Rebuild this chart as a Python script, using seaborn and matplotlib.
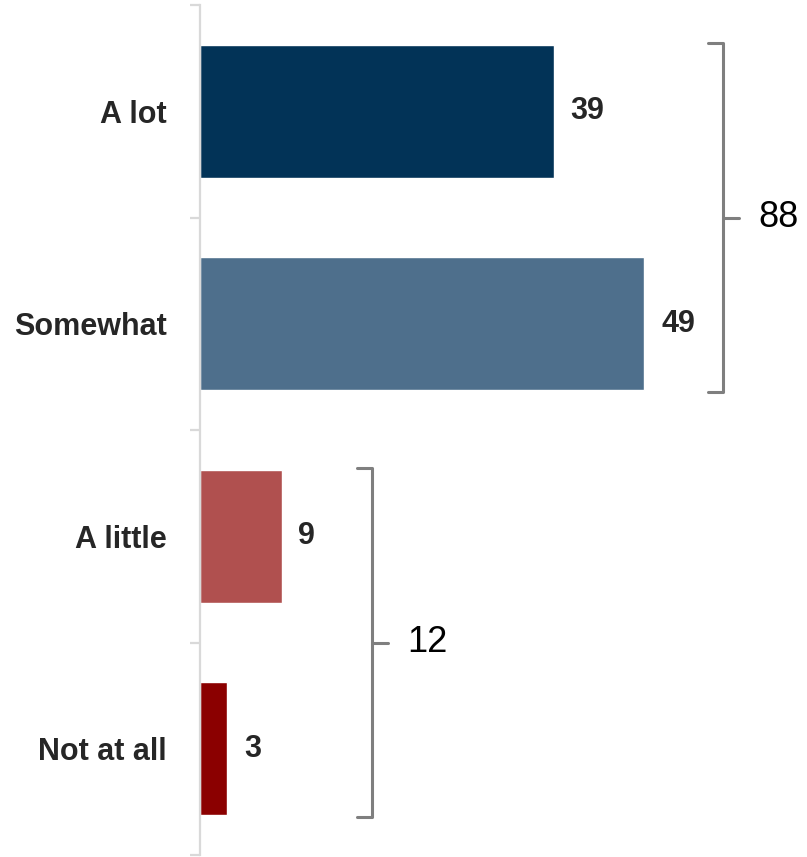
import matplotlib
matplotlib.use("Agg")
import matplotlib.pyplot as plt
from matplotlib import font_manager
import seaborn as sns
import pandas as pd

# data
categories = ["A lot", "Somewhat", "A little", "Not at all"]
values = [39, 49, 9, 3]
colors = ["#023357", "#4E6F8C", "#B0504F", "#8B0000"]
groups = [[0, 1], [2, 3]]
group_totals = [88, 12]

sns.set_theme(style="white")

# narrow font if it exists, else the plain one
names = set(f.name for f in font_manager.fontManager.ttflist)
font = "Liberation Sans Narrow" if "Liberation Sans Narrow" in names else "Liberation Sans"
plt.rcParams["font.family"] = [font, "DejaVu Sans"]
label_size = 20 if font.endswith("Narrow") else 22

df = pd.DataFrame({"category": categories, "value": values})

fig = plt.figure(figsize=(8.07, 8.57), dpi=100)
ax = fig.add_axes([200 / 807, 2 / 857, 607 / 807, 850 / 857])

sns.barplot(data=df, x="value", y="category", hue="category", palette=colors,
            width=0.625, legend=False, ax=ax, saturation=1)

px_per_unit = 9.07
ax.set_xlim(0, 607 / px_per_unit)
ax.set_ylim(len(categories) - 0.5, -0.5)

# value labels
for cont in ax.containers:
    ax.bar_label(cont, padding=12, fontsize=label_size, fontweight="bold", color="#262626")

# spines / ticks
for s in ["top", "right", "bottom"]:
    ax.spines[s].set_visible(False)
ax.spines["left"].set_color("#D9D9D9")
ax.spines["left"].set_linewidth(1.6)
ax.set_xticks([])
ax.set_xlabel("")
ax.set_ylabel("")

bounds = [i - 0.5 for i in range(len(categories) + 1)]
ax.set_yticks(bounds)
ax.set_yticklabels([])
ax.set_yticks(range(len(categories)), minor=True)
ax.set_yticklabels(categories, minor=True, fontsize=label_size, fontweight="bold", color="#262626")
ax.tick_params(axis="y", which="major", length=7, width=1.6, color="#D9D9D9", left=True)
ax.tick_params(axis="y", which="minor", length=0, pad=24, left=True)

# brackets with totals
bracket_pad = [8.7, 10.0]
for g, total, pad in zip(groups, group_totals, bracket_pad):
    xb = max(values[i] for i in g) + pad
    y0 = min(g) - 0.32
    y1 = max(g) + 0.32
    ym = (y0 + y1) / 2
    hook = 1.7
    ax.plot([xb - hook, xb, xb, xb - hook], [y0, y0, y1, y1], color="#7F7F7F",
            lw=2.2, clip_on=False, solid_joinstyle="round")
    ax.plot([xb, xb + hook], [ym, ym], color="#7F7F7F", lw=2.2, clip_on=False)
    ax.text(xb + hook + 2.2, ym, str(total), fontsize=26, color="black",
            va="center", ha="left", clip_on=False)

plt.savefig("out.png", dpi=100)
